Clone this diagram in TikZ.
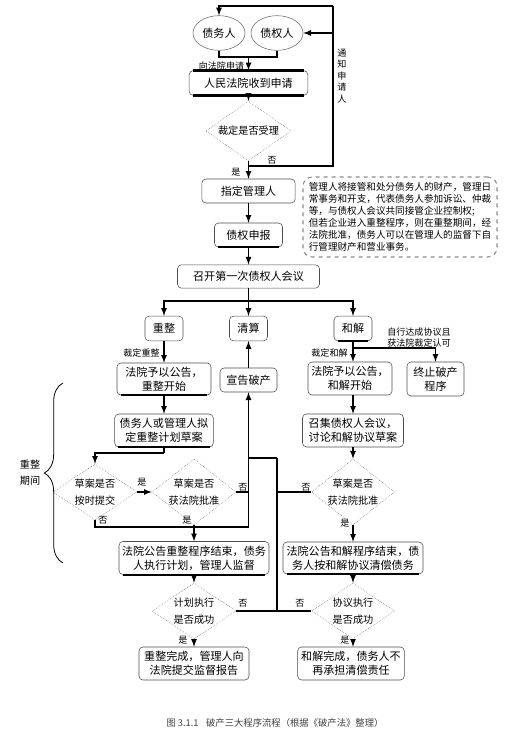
\documentclass[tikz,border=0pt]{standalone}
\usepackage{fontspec}
\newfontfamily\cjk{Noto Sans CJK SC}
\usepackage{tikz}
\usetikzlibrary{shapes,arrows,positioning,decorations.pathreplacing}

\begin{document}
\begin{tikzpicture}[x=0.75pt,y=-0.75pt,
	box/.style={draw=black!70,rounded corners=3pt,align=center,inner sep=1.5pt,font=\cjk\fontsize{8.3}{10.5}\selectfont},
	dia/.style={shape=diamond,draw=black!60,densely dotted,inner sep=-2pt,align=center,font=\cjk\fontsize{7.6}{12.5}\selectfont},
	oval/.style={shape=ellipse,draw=black!60,inner sep=0pt,minimum width=39pt,minimum height=26pt,font=\cjk\fontsize{8.3}{10}\selectfont},
	notebox/.style={draw=black!45,dashed,line width=0.8pt,rounded corners=7pt,align=left,inner sep=3pt,font=\cjk\fontsize{7.2}{9}\selectfont},
	lab/.style={inner sep=0pt,align=center,font=\cjk\fontsize{6.8}{8.6}\selectfont},
	wire/.style={line width=1pt},
	arr/.style={line width=1pt,-latex},
	heavy/.style={line width=1.8pt}]
	\useasboundingbox (0,0) rectangle (505,740);

	% application
	\node[oval] (zwr) at (219,33) {债务人};
	\node[oval] (zqr) at (277,33) {债权人};
	\node[box,minimum width=89pt,minimum height=18.5pt] (shen) at (248.5,83) {人民法院收到申请};
	\node[dia,minimum width=64pt,minimum height=32pt] (shouli) at (248.5,131) {裁定是否受理};
	\node[box,minimum width=70pt,minimum height=18pt] (zhiding) at (248.5,191) {指定管理人};
	\node[box,minimum width=51pt,minimum height=18pt] (shenbao) at (248.5,235) {债权申报};
	\node[box,minimum width=106.5pt,minimum height=17.5pt] (huiyi) at (248.5,276.5) {召开第一次债权人会议};
	\node[notebox,minimum width=145.5pt,minimum height=60pt] (note) at (400,217) {管理人将接管和处分债务人的财产，管理日\\常事务和开支，代表债务人参加诉讼、仲裁\\等，与债权人会议共同接管企业控制权;\\但若企业进入重整程序，则在重整期间，经\\法院批准，债务人可以在管理人的监督下自\\行管理财产和营业事务。};

	% three procedures
	\node[box,minimum width=28.5pt,minimum height=18.5pt] (chongzheng) at (164,328.5) {重整};
	\node[box,minimum width=28.5pt,minimum height=18.5pt] (qingsuan) at (248.5,328.5) {清算};
	\node[box,minimum width=28.5pt,minimum height=18.5pt] (hejie) at (353,328.5) {和解};

	% reorganisation
	\node[box,minimum width=70.5pt,minimum height=24pt] (zgg) at (164,379) {法院予以公告，\\重整开始};
	\node[box,minimum width=42.75pt,minimum height=18pt] (xuangao) at (248.5,380) {宣告破产};
	\node[box,minimum width=74pt,minimum height=24.75pt] (nid) at (164,430.5) {债务人或管理人拟\\定重整计划草案};
	\node[dia,minimum width=63pt,minimum height=35pt] (ds1) at (95,492) {草案是否\\按时提交};
	\node[dia,minimum width=63pt,minimum height=36pt] (ds2) at (194,492) {草案是否\\获法院批准};
	\node[box,minimum width=112.5pt,minimum height=24.75pt] (zjs) at (194,558) {法院公告重整程序结束，债务\\人执行计划，管理人监督};
	\node[dia,minimum width=63pt,minimum height=34.5pt] (ds3) at (194,611) {计划执行\\是否成功};
	\node[box,minimum width=82.5pt,minimum height=24.75pt] (zwc) at (194,663.5) {重整完成，管理人向\\法院提交监督报告};

	% composition
	\node[box,minimum width=63pt,minimum height=24.75pt] (hgg) at (350,378.5) {法院予以公告，\\和解开始};
	\node[box,minimum width=42.75pt,minimum height=25.5pt] (zz) at (435.5,379) {终止破产\\程序};
	\node[box,minimum width=75.75pt,minimum height=24.75pt] (zj) at (353,430.5) {召集债权人会议，\\讨论和解协议草案};
	\node[dia,minimum width=62.25pt,minimum height=35pt] (ds4) at (353,492) {草案是否\\获法院批准};
	\node[box,minimum width=105pt,minimum height=24pt] (hjs) at (353,558) {法院公告和解程序结束，债\\务人按和解协议清偿债务};
	\node[dia,minimum width=62.25pt,minimum height=34.5pt] (ds5) at (353,611) {协议执行\\是否成功};
	\node[box,minimum width=80pt,minimum height=24.75pt] (hwc) at (351,663.5) {和解完成，债务人不\\再承担清偿责任};

	% heavy lower edges
	\foreach \n in {shen,shenbao,zgg,nid,hejie,zjs,hjs}
		\draw[heavy] ([xshift=3pt]\n.south west) -- ([xshift=-3pt]\n.south east);
	\draw[heavy] ([xshift=3pt]shen.north west) -- ([xshift=-3pt]shen.north east);

	% connectors, top
	\coordinate (j1) at (248.5,57);
	\coordinate (j2) at (248.5,166);
	\coordinate (r1) at (333,166);
	\coordinate (r2) at (333,6);
	\coordinate (r3) at (333,33);
	\draw[wire] (zwr.south) |- (j1) -| (zqr.south);
	\draw[arr] (j1) -- (shen);
	\draw[arr] (shen) -- (shouli);
	\draw[wire] (shouli) -- (j2) -- (r1) -- (r2);
	\draw[arr] (r2) -| (zwr.north);
	\draw[arr] (r3) -- (zqr.east);
	\draw[arr] (j2) -- (zhiding);
	\draw[arr] (zhiding) -- (shenbao);
	\draw[arr] (shenbao) -- (huiyi);
	\coordinate (d0) at (248.5,301);
	\draw[wire] (huiyi) -- (d0);
	\draw[arr] (d0) -| (chongzheng);
	\draw[arr] (d0) -| (hejie);
	\draw[arr] (d0) -- (qingsuan);

	% connectors, left
	\coordinate (k1) at (164,453);
	\coordinate (k2) at (248.5,527);
	\coordinate (k4) at (277,458);
	\draw[arr] (chongzheng) -- (zgg);
	\draw[arr] (zgg) -- (nid);
	\draw[wire] (nid) -- (k1);
	\draw[arr] (k1) -| (ds1);
	\draw[arr] (ds1) -- (ds2);
	\draw[wire] (ds1.south) |- (k2);
	\draw[wire] (ds2.east) -- (ds2.east -| k2);
	\draw[arr] (k2) -- (xuangao);
	\draw[arr] (xuangao) -- (qingsuan);
	\draw[arr] (ds2) -- (zjs);
	\draw[arr] (zjs) -- (ds3);
	\draw[arr] (ds3) -- (zwc);
	\draw[wire] (k4) -- (k4 -| k2);
	\draw[wire] (k4) -- (k4 |- ds3.east);
	\draw[wire] (ds3) -- (ds5);

	% connectors, right
	\coordinate (k5) at (353,348);
	\draw[arr] (hejie) -- (hejie |- hgg.north);
	\draw[arr] (k5) -| (zz);
	\draw[arr] (hgg.south -| zj) -- (zj);
	\draw[arr] (zj) -- (ds4);
	\draw[wire] (ds4.west) -- (ds4.west -| k4);
	\draw[arr] (ds4) -- (hjs);
	\draw[arr] (hjs) -- (ds5);
	\draw[arr] (ds5) -- (ds5 |- hwc.north);

	% labels
	\node[lab] (lshen) at (221.5,66) {向法院申请};
	\node[lab] (ltz) at (342,76) {\fontsize{6.8}{7}\selectfont 通\\知\\申\\请\\人};
	\node[lab] (lno1) at (272,160) {否};
	\node[lab] (lyes1) at (236,172) {是};
	\node[lab] (lcz) at (141.5,353) {裁定重整};
	\node[lab] (lhj) at (329.5,353) {裁定和解};
	\node[lab] (lzx) at (419,337.5) {自行达成协议且\\获法院裁定认可};
	\node[lab] (lyes2) at (142,482) {是};
	\node[lab] (lno2) at (243,487) {否};
	\node[lab] (lno3) at (103,520) {否};
	\node[lab] (lyes3) at (187,520) {是};
	\node[lab] (lno4) at (306,487) {否};
	\node[lab] (lyes4) at (345,523) {是};
	\node[lab] (lno5) at (243,603) {否};
	\node[lab] (lno6) at (300,603) {否};
	\node[lab] (lyes5) at (183,640) {是};
	\node[lab] (lyes6) at (345,640) {是};

	% reorganisation period
	\draw[decorate,decoration={brace,amplitude=14pt},line width=0.6pt] (63,563) -- (63,383);
	\node[lab,font=\cjk\fontsize{7.6}{12}\selectfont] (lqj) at (30,473) {重整\\期间};

	\node[font=\cjk\fontsize{7}{9}\selectfont,text=black!75] (cap) at (275,723) {图 3.1.1\hspace{0.8em}破产三大程序流程（根据《破产法》整理）};
\end{tikzpicture}
\end{document}
